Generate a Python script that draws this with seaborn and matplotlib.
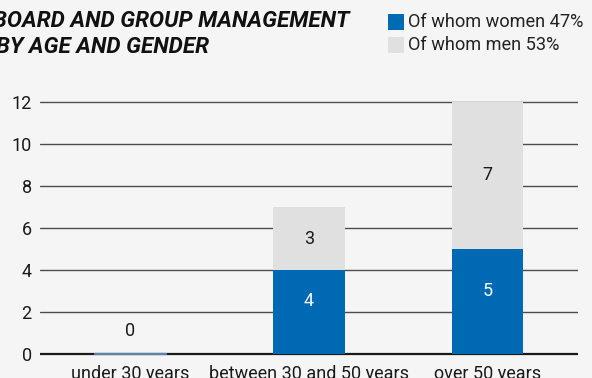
import matplotlib
matplotlib.use("Agg")
import matplotlib.pyplot as plt
from matplotlib.patches import Rectangle
import seaborn as sns
import pandas as pd

# Board and group management headcount by age band and gender
age_groups = ["under 30 years", "between 30 and 50 years", "over 50 years"]
women = [0, 4, 5]
men = [0, 3, 7]
legend_labels = ["Of whom women 47%", "Of whom men 53%"]
title_lines = ["BOARD AND GROUP MANAGEMENT", "BY AGE AND GENDER"]
y_ticks = [0, 2, 4, 6, 8, 10, 12]

BLUE = "#0069b4"
GREY = "#e0e0e0"
BG = "#f5f5f5"
FONT = "Roboto"

df = pd.DataFrame({"age": age_groups, "women": women, "men": men})
df["total"] = df["women"] + df["men"]

sns.set_theme(style="white")
plt.rcParams["font.family"] = [FONT, "DejaVu Sans"]

W, H = 592, 378
fig = plt.figure(figsize=(W / 100, H / 100), dpi=100, facecolor=BG)

# axes placed in pixel terms: x from 40 to 578, y=0 at 354 px, 21 px per unit
y0_px, unit = 354, 21.0
ylo, yhi = -0.12, 12.12
bottom_px = H - y0_px + ylo * unit
ax = fig.add_axes([40 / W, bottom_px / H, 538 / W, (yhi - ylo) * unit / H])
ax.set_facecolor(BG)

# gridlines behind bars
for t in y_ticks:
    ax.axhline(t, color="#1a1a1a" if t == 0 else "#4d4d4d",
               lw=1.6 if t == 0 else 1.0, zorder=0)

# stacked bars: total in grey, women overlaid in blue
sns.barplot(data=df, x="age", y="total", color=GREY, saturation=1,
            width=0.40, ax=ax, zorder=2, linewidth=0)
sns.barplot(data=df, x="age", y="women", color=BLUE, saturation=1,
            width=0.40, ax=ax, zorder=3, linewidth=0)

# zero-height bar shows as a thin line on the baseline
for i, (w, m) in enumerate(zip(women, men)):
    if w + m == 0:
        ax.plot([i - 0.2, i + 0.2], [0, 0], color="#5a86b0", lw=1.6, zorder=4)

# value labels
for i, (w, m) in enumerate(zip(women, men)):
    if w + m == 0:
        ax.text(i, 1.1, f"{w + m}", ha="center", va="center",
                fontsize=13, color="#1a1a1a")
        continue
    ax.text(i, w / 2 + 0.5, f"{w}", ha="center", va="center",
            fontsize=13, color="white", zorder=5)
    ax.text(i, w + m / 2, f"{m}", ha="center", va="center",
            fontsize=13, color="#1a1a1a", zorder=5)

ax.set_xlim(-0.506, 2.506)
ax.set_ylim(ylo, yhi)
ax.set_yticks(y_ticks)
ax.set_yticklabels([str(t) for t in y_ticks])
ax.set_xlabel("")
ax.set_ylabel("")
ax.tick_params(axis="both", length=0, labelsize=13, colors="#1a1a1a")
ax.tick_params(axis="y", pad=6)
ax.tick_params(axis="x", pad=6)
for s in ax.spines.values():
    s.set_visible(False)

# title, clipped at the left edge
fig.text(-7 / W, 1 - 21 / H, title_lines[0], fontsize=16.2, fontweight="bold",
         fontstyle="italic", color="#111111", va="center", ha="left")
fig.text(-4 / W, 1 - 47 / H, title_lines[1], fontsize=16.2, fontweight="bold",
         fontstyle="italic", color="#111111", va="center", ha="left")

# legend drawn as swatches + text
for k, (lab, col) in enumerate(zip(legend_labels, [BLUE, GREY])):
    top = 14 + k * 23
    fig.patches.append(Rectangle((388 / W, 1 - (top + 16) / H), 16 / W, 16 / H,
                                 transform=fig.transFigure, facecolor=col,
                                 edgecolor="none"))
    fig.text(408 / W, 1 - (top + 8) / H, lab, fontsize=13.1, color="#222222",
             va="center", ha="left")

fig.savefig("out.png", dpi=100, facecolor=BG)
